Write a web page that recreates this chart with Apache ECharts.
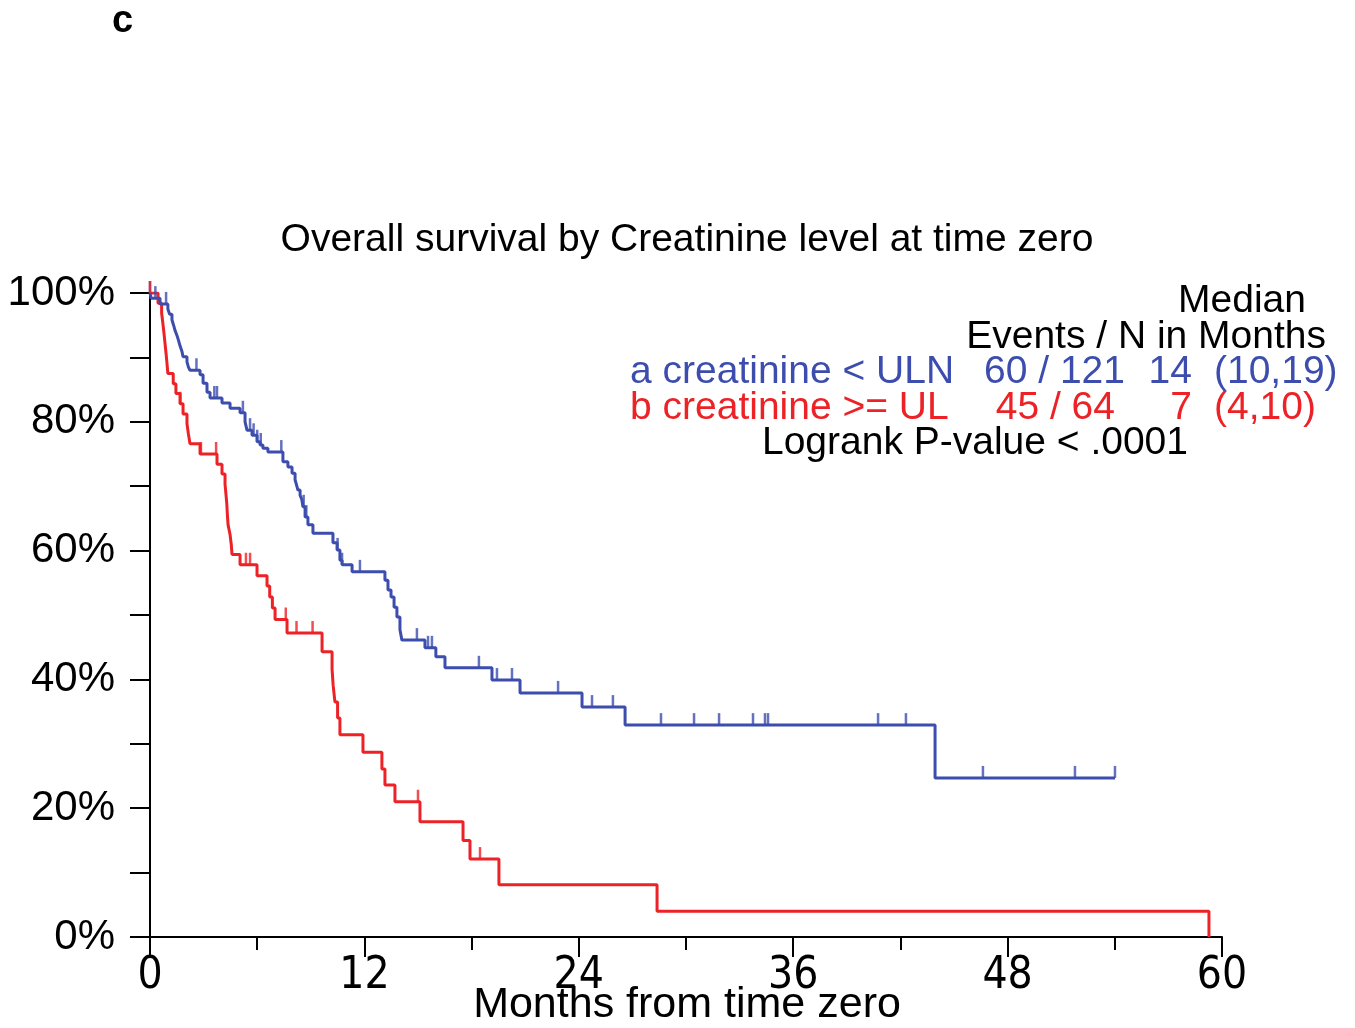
<!DOCTYPE html>
<html>
<head>
<meta charset="utf-8">
<script src="https://cdn.jsdelivr.net/npm/echarts@6/dist/echarts.min.js"></script>
<style>
  html, body { margin: 0; padding: 0; background: #fff; }
  #chart { width: 1355px; height: 1028px; }
</style>
</head>
<body>
<div id="chart"></div>
<script>
// Kaplan-Meier steps (months, survival %)
const blueTimes = [0, 0.06, 0.56, 1.0, 1.1, 1.23, 1.32, 1.4, 1.51, 1.6, 1.68, 1.79, 1.85, 2.07, 2.15, 2.24, 2.35, 2.8, 2.97, 3.19, 3.36,
  4.03, 4.48, 5.04, 5.32, 5.43, 5.71, 5.99, 6.16, 6.32, 6.6, 7.44, 7.72, 7.95, 8.12, 8.2, 8.28, 8.4, 8.5, 8.56, 8.68, 8.84, 9.12,
  10.24, 10.47, 10.63, 10.75, 11.31, 13.15, 13.32, 13.49, 13.66, 13.82, 13.99, 14.1, 15.39, 16.0, 16.51, 19.14, 20.71, 24.18,
  26.59, 43.94, 54.01];
const blueSurv = [100, 99.2, 98.3, 97.5, 96.7, 95.8, 95.0, 94.2, 93.4, 92.6, 91.8, 90.9, 90.1, 89.3, 88.5, 88.0, 88.0, 87.3, 86.0, 84.6, 83.7,
  82.9, 82.1, 81.4, 80.0, 78.7, 77.9, 76.9, 76.4, 75.9, 75.3, 73.8, 73.0, 72.0, 71.0, 70.2, 69.4, 68.6, 67.9, 66.8, 65.2, 64.0, 62.7,
  61.2, 60.1, 58.5, 57.8, 56.7, 55.4, 53.9, 52.8, 51.2, 49.7, 47.7, 46.1, 44.9, 43.5, 41.8, 39.9, 37.9, 35.7,
  32.9, 24.7, 24.7];
const blueCensor = [0, 0.3, 0.9, 2.6, 3.6, 3.75, 5.2, 5.6, 5.8, 6.0, 6.2, 7.35, 8.6, 8.75, 10.5, 10.75, 11.75, 14.94, 15.56, 15.78,
  18.41, 19.42, 20.26, 22.84, 24.74, 25.91, 28.6, 30.45, 31.85, 33.75, 34.42, 34.59, 40.75, 42.31, 46.62, 51.77, 54.01];

const redTimes = [0, 0.45, 0.65, 0.72, 0.78, 0.84, 0.9, 0.95, 1.0, 1.3, 1.45, 1.68, 1.85, 2.07, 2.15, 2.24, 2.8,
  3.75, 4.03, 4.2, 4.25, 4.3, 4.33, 4.37, 4.48, 4.55, 4.59, 5.04, 5.99, 6.55, 6.7, 6.85, 7.0, 7.67, 9.63,
  10.19, 10.25, 10.35, 10.5, 10.63, 11.92, 12.98, 13.15, 13.71, 15.11, 17.52, 17.91, 19.53, 28.38, 59.27];
const redSurv = [100, 98.4, 96.9, 95.3, 93.8, 92.2, 90.6, 89.1, 87.5, 85.9, 84.4, 82.8, 81.2, 79.7, 78.1, 76.6, 75.0,
  73.4, 71.9, 70.3, 68.8, 67.2, 65.6, 64.0, 62.5, 60.9, 59.4, 57.8, 56.1, 54.5, 52.8, 51.1, 49.3, 47.2, 44.3,
  41.6, 39.1, 36.5, 34.0, 31.4, 28.7, 26.1, 23.6, 21.0, 17.9, 15.0, 12.1, 8.1, 4.0, 0];
const redCensor = [0, 1.7, 2.85, 3.7, 5.37, 5.6, 7.6, 8.2, 9.1, 15.0, 18.47];

const xTicks = [0, 12, 24, 36, 48, 60];

const BLUE = '#3C4DAE';
const RED = '#EC2227';

function steps(times, surv) {
  return times.map((t, i) => [t, surv[i]]);
}
function censorPoints(times, surv, cens) {
  return cens.map(c => {
    let s = surv[0];
    for (let i = 0; i < times.length; i++) {
      if (times[i] <= c) s = surv[i];
    }
    return [c, s];
  });
}

const chart = echarts.init(document.getElementById('chart'));
const font = '"Liberation Sans", Arial, sans-serif';

const option = {
  animation: false,
  grid: { left: 150, right: 133, top: 293, bottom: 91, containLabel: false, outerBoundsMode: 'none' },
  xAxis: {
    type: 'value',
    min: 0,
    max: 60,
    interval: 12,
    axisLine: { lineStyle: { color: '#000', width: 2 } },
    axisTick: { length: 20, lineStyle: { color: '#000', width: 2 } },
    minorTick: { show: true, splitNumber: 2, length: 13, lineStyle: { color: '#000', width: 2 } },
    splitLine: { show: false },
    axisLabel: {
      margin: 18,
      fontFamily: '"DejaVu Sans Condensed", sans-serif',
      fontSize: 44,
      color: '#000',
      formatter: v => xTicks.includes(v) ? String(v) : ''
    }
  },
  yAxis: {
    type: 'value',
    min: 0,
    max: 100,
    interval: 20,
    axisLine: { show: true, lineStyle: { color: '#000', width: 2 } },
    axisTick: { show: true, length: 20, lineStyle: { color: '#000', width: 2 } },
    minorTick: { show: true, splitNumber: 2, length: 20, lineStyle: { color: '#000', width: 2 } },
    splitLine: { show: false },
    axisLabel: { margin: 35, fontFamily: font, fontSize: 42, color: '#000', formatter: '{value}%' }
  },
  series: [
    {
      name: 'a', type: 'line', step: 'end', showSymbol: false,
      data: steps(blueTimes, blueSurv),
      lineStyle: { color: BLUE, width: 3 }, z: 3
    },
    {
      name: 'b', type: 'line', step: 'end', showSymbol: false,
      data: steps(redTimes, redSurv),
      lineStyle: { color: RED, width: 3 }, z: 2
    },
    {
      type: 'scatter', symbol: 'rect', symbolSize: [2.5, 12], symbolOffset: [0, -6],
      data: censorPoints(blueTimes, blueSurv, blueCensor),
      itemStyle: { color: BLUE }, silent: true, z: 4
    },
    {
      type: 'scatter', symbol: 'rect', symbolSize: [2.5, 12], symbolOffset: [0, -6],
      data: censorPoints(redTimes, redSurv, redCensor),
      itemStyle: { color: RED }, silent: true, z: 4
    }
  ],
  graphic: [
    { type: 'text', x: 112, y: 22, style: { text: 'c', font: 'bold 38px ' + font, fill: '#000', verticalAlign: 'middle' } },
    { type: 'text', x: 687, y: 240, style: { text: 'Overall survival by Creatinine level at time zero', font: '39px ' + font, fill: '#000', align: 'center', verticalAlign: 'middle' } },
    { type: 'text', x: 687, y: 1005, style: { text: 'Months from time zero', font: '43px ' + font, fill: '#000', align: 'center', verticalAlign: 'middle' } },
    { type: 'text', x: 1306, y: 301, style: { text: 'Median', font: '39px ' + font, fill: '#000', align: 'right', verticalAlign: 'middle' } },
    { type: 'text', x: 1326, y: 337, style: { text: 'Events / N in Months', font: '39px ' + font, fill: '#000', align: 'right', verticalAlign: 'middle' } },
    { type: 'text', x: 630, y: 372, style: { text: 'a creatinine < ULN', font: '39px ' + font, fill: BLUE, verticalAlign: 'middle' } },
    { type: 'text', x: 1125, y: 372, style: { text: '60 / 121', font: '39px ' + font, fill: BLUE, align: 'right', verticalAlign: 'middle' } },
    { type: 'text', x: 1192, y: 372, style: { text: '14', font: '39px ' + font, fill: BLUE, align: 'right', verticalAlign: 'middle' } },
    { type: 'text', x: 1214, y: 372, style: { text: '(10,19)', font: '39px ' + font, fill: BLUE, verticalAlign: 'middle' } },
    { type: 'text', x: 630, y: 408, style: { text: 'b creatinine >= UL', font: '39px ' + font, fill: RED, verticalAlign: 'middle' } },
    { type: 'text', x: 1115, y: 408, style: { text: '45 / 64', font: '39px ' + font, fill: RED, align: 'right', verticalAlign: 'middle' } },
    { type: 'text', x: 1192, y: 408, style: { text: '7', font: '39px ' + font, fill: RED, align: 'right', verticalAlign: 'middle' } },
    { type: 'text', x: 1214, y: 408, style: { text: '(4,10)', font: '39px ' + font, fill: RED, verticalAlign: 'middle' } },
    { type: 'text', x: 1188, y: 443, style: { text: 'Logrank P-value < .0001', font: '39px ' + font, fill: '#000', align: 'right', verticalAlign: 'middle' } }
  ]
};

chart.setOption(option);
</script>
</body>
</html>
